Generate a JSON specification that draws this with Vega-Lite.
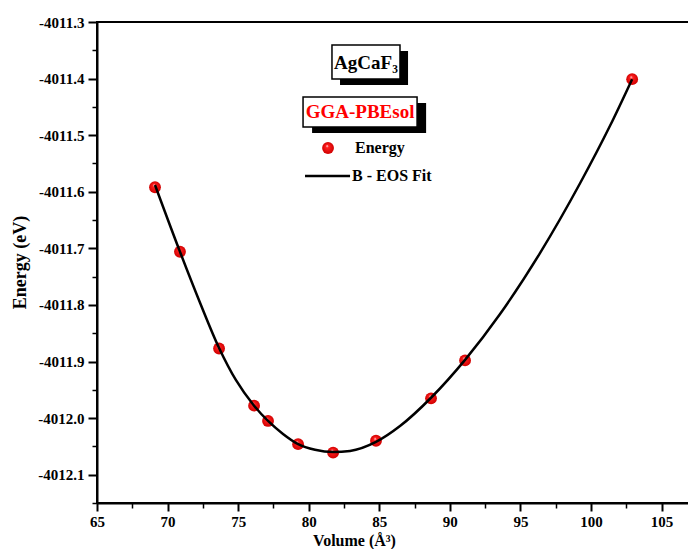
{
  "$schema": "https://vega.github.io/schema/vega-lite/v6.json",
  "width": 594,
  "height": 481,
  "autosize": {"type": "none"},
  "padding": {"left": 97, "top": 22, "right": 0, "bottom": 46},
  "background": "white",
  "config": {
    "view": {"stroke": "black", "strokeWidth": 2},
    "axis": {
      "domainColor": "black",
      "domainWidth": 2,
      "tickColor": "black",
      "labelFont": "Liberation Serif",
      "labelFontWeight": "bold",
      "labelFontSize": 15,
      "labelColor": "black",
      "titleFont": "Liberation Serif",
      "titleFontWeight": "bold",
      "titleColor": "black",
      "grid": false,
      "labelFlush": false,
      "labelOverlap": false
    }
  },
  "resolve": {"axis": {"x": "independent", "y": "independent"}},
  "datasets": {
    "energy": [
      {"x": 69.11, "y": -4011.592},
      {"x": 70.88, "y": -4011.706},
      {"x": 73.65, "y": -4011.877},
      {"x": 76.13, "y": -4011.978},
      {"x": 77.12, "y": -4012.005},
      {"x": 79.25, "y": -4012.046},
      {"x": 81.73, "y": -4012.061},
      {"x": 84.77, "y": -4012.040},
      {"x": 88.67, "y": -4011.965},
      {"x": 91.08, "y": -4011.898},
      {"x": 102.92, "y": -4011.401}
    ],
    "fit": [
      {"x": 69.11, "y": -4011.588},
      {"x": 70.88, "y": -4011.706},
      {"x": 72.30, "y": -4011.796},
      {"x": 73.65, "y": -4011.876},
      {"x": 74.85, "y": -4011.933},
      {"x": 76.13, "y": -4011.978},
      {"x": 77.12, "y": -4012.005},
      {"x": 78.18, "y": -4012.028},
      {"x": 79.25, "y": -4012.046},
      {"x": 80.45, "y": -4012.056},
      {"x": 81.73, "y": -4012.060},
      {"x": 82.93, "y": -4012.058},
      {"x": 84.77, "y": -4012.042},
      {"x": 86.47, "y": -4012.014},
      {"x": 88.67, "y": -4011.964},
      {"x": 91.08, "y": -4011.897},
      {"x": 93.56, "y": -4011.816},
      {"x": 96.40, "y": -4011.708},
      {"x": 99.23, "y": -4011.585},
      {"x": 101.36, "y": -4011.483},
      {"x": 102.92, "y": -4011.401}
    ],
    "shadows": [
      {"x": 82.22, "x2": 87.04, "y": -4011.3512, "y2": -4011.4113},
      {"x": 80.24, "x2": 88.32, "y": -4011.4431, "y2": -4011.4961}
    ],
    "boxes": [
      {"x": 81.65, "x2": 86.47, "y": -4011.3406, "y2": -4011.4007},
      {"x": 79.60, "x2": 87.68, "y": -4011.4325, "y2": -4011.4855}
    ],
    "labels": [
      {"x": 84.06, "y": -4011.3724, "text": "AgCaF₃", "color": "black"},
      {"x": 83.64, "y": -4011.459, "text": "GGA-PBEsol", "color": "#ff0000"}
    ],
    "legendPoint": [{"x": 81.37, "y": -4011.5226}],
    "legendLine": [{"x": 79.74, "y": -4011.572}, {"x": 82.93, "y": -4011.572}],
    "legendText": [
      {"x": 83.28, "y": -4011.5226, "text": "Energy"},
      {"x": 83.07, "y": -4011.572, "text": "B - EOS Fit"}
    ]
  },
  "layer": [
    {
      "data": {"name": "energy"},
      "mark": {
        "type": "point",
        "filled": true,
        "size": 140,
        "opacity": 1,
        "fill": {
          "gradient": "radial",
          "x1": 0.42, "y1": 0.32, "r1": 0,
          "x2": 0.5, "y2": 0.5, "r2": 0.5,
          "stops": [
            {"offset": 0, "color": "#fff0f0"},
            {"offset": 0.25, "color": "#ff2020"},
            {"offset": 1, "color": "#d00000"}
          ]
        }
      },
      "encoding": {
        "x": {
          "field": "x", "type": "quantitative",
          "scale": {"domain": [65, 107.09]},
          "axis": {
            "orient": "bottom",
            "title": "Volume (Å³)",
            "titleFontSize": 16,
            "titleX": 257,
            "titleY": 37,
            "titleBaseline": "middle",
            "values": [65, 70, 75, 80, 85, 90, 95, 100, 105],
            "format": "d",
            "labelPadding": 3,
            "tickSize": 8,
            "tickWidth": 2
          }
        },
        "y": {
          "field": "y", "type": "quantitative",
          "scale": {"domain": [-4012.15, -4011.3]},
          "axis": {
            "orient": "left",
            "title": "Energy (eV)",
            "titleFontSize": 18,
            "titleX": -77,
            "titleY": 240,
            "titleAlign": "center",
            "titleBaseline": "middle",
            "values": [-4012.1, -4012.0, -4011.9, -4011.8, -4011.7, -4011.6, -4011.5, -4011.4, -4011.3],
            "labelExpr": "'-' + format(abs(datum.value), '.1f')",
            "labelPadding": 4,
            "tickSize": 9,
            "tickWidth": 2
          }
        }
      }
    },
    {
      "data": {"name": "fit"},
      "mark": {"type": "line", "color": "black", "strokeWidth": 2.5, "interpolate": "monotone"},
      "encoding": {
        "x": {
          "field": "x", "type": "quantitative",
          "scale": {"domain": [65, 107.09]},
          "axis": {
            "orient": "bottom",
            "title": null,
            "labels": false,
            "domain": false,
            "values": [67.5, 72.5, 77.5, 82.5, 87.5, 92.5, 97.5, 102.5],
            "tickSize": 5,
            "tickWidth": 1.5
          }
        },
        "y": {
          "field": "y", "type": "quantitative",
          "scale": {"domain": [-4012.15, -4011.3]},
          "axis": {
            "orient": "left",
            "title": null,
            "labels": false,
            "domain": false,
            "values": [-4012.15, -4012.05, -4011.95, -4011.85, -4011.75, -4011.65, -4011.55, -4011.45, -4011.35],
            "tickSize": 5,
            "tickWidth": 1.5
          }
        }
      }
    },
    {
      "data": {"name": "shadows"},
      "mark": {"type": "rect", "color": "black"},
      "encoding": {
        "x": {"field": "x", "type": "quantitative", "scale": {"domain": [65, 107.09]}, "axis": null},
        "x2": {"field": "x2"},
        "y": {"field": "y", "type": "quantitative", "scale": {"domain": [-4012.15, -4011.3]}, "axis": null},
        "y2": {"field": "y2"}
      }
    },
    {
      "data": {"name": "boxes"},
      "mark": {"type": "rect", "fill": "white", "stroke": "black", "strokeWidth": 1.5},
      "encoding": {
        "x": {"field": "x", "type": "quantitative", "scale": {"domain": [65, 107.09]}, "axis": null},
        "x2": {"field": "x2"},
        "y": {"field": "y", "type": "quantitative", "scale": {"domain": [-4012.15, -4011.3]}, "axis": null},
        "y2": {"field": "y2"}
      }
    },
    {
      "data": {"name": "labels"},
      "mark": {"type": "text", "font": "Liberation Serif", "fontWeight": "bold", "fontSize": 19, "align": "center", "baseline": "middle"},
      "encoding": {
        "x": {"field": "x", "type": "quantitative", "scale": {"domain": [65, 107.09]}, "axis": null},
        "y": {"field": "y", "type": "quantitative", "scale": {"domain": [-4012.15, -4011.3]}, "axis": null},
        "text": {"field": "text"},
        "color": {"field": "color", "type": "nominal", "scale": null}
      }
    },
    {
      "data": {"name": "legendPoint"},
      "mark": {
        "type": "point",
        "filled": true,
        "size": 140,
        "opacity": 1,
        "fill": {
          "gradient": "radial",
          "x1": 0.42, "y1": 0.32, "r1": 0,
          "x2": 0.5, "y2": 0.5, "r2": 0.5,
          "stops": [
            {"offset": 0, "color": "#fff0f0"},
            {"offset": 0.25, "color": "#ff2020"},
            {"offset": 1, "color": "#d00000"}
          ]
        }
      },
      "encoding": {
        "x": {"field": "x", "type": "quantitative", "scale": {"domain": [65, 107.09]}, "axis": null},
        "y": {"field": "y", "type": "quantitative", "scale": {"domain": [-4012.15, -4011.3]}, "axis": null}
      }
    },
    {
      "data": {"name": "legendLine"},
      "mark": {"type": "line", "color": "black", "strokeWidth": 2.5},
      "encoding": {
        "x": {"field": "x", "type": "quantitative", "scale": {"domain": [65, 107.09]}, "axis": null},
        "y": {"field": "y", "type": "quantitative", "scale": {"domain": [-4012.15, -4011.3]}, "axis": null}
      }
    },
    {
      "data": {"name": "legendText"},
      "mark": {"type": "text", "font": "Liberation Serif", "fontWeight": "bold", "fontSize": 16, "align": "left", "baseline": "middle", "color": "black"},
      "encoding": {
        "x": {"field": "x", "type": "quantitative", "scale": {"domain": [65, 107.09]}, "axis": null},
        "y": {"field": "y", "type": "quantitative", "scale": {"domain": [-4012.15, -4011.3]}, "axis": null},
        "text": {"field": "text"}
      }
    }
  ]
}
